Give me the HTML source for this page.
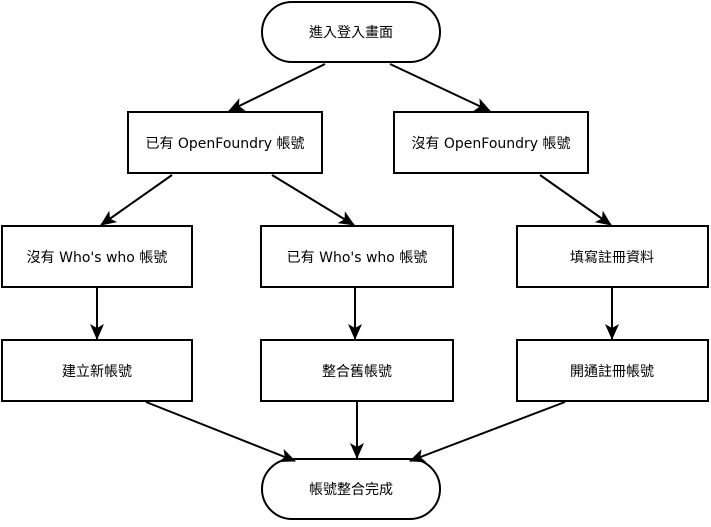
<!DOCTYPE html>
<html><head><meta charset="utf-8"><style>
html,body{margin:0;padding:0;background:#fff;}
</style></head><body>
<svg width="711" height="522" viewBox="0 0 711 522" xmlns="http://www.w3.org/2000/svg">
<defs><marker id="a" markerWidth="18" markerHeight="16" refX="15" refY="7" orient="auto" markerUnits="userSpaceOnUse"><path d="M0,0 L16,7 L0,14 L4,7 Z" fill="#000"/></marker></defs>
<g fill="#fff" stroke="#000" stroke-width="2">
<rect x="262" y="2" width="178" height="60" rx="30"/>
<rect x="128" y="112" width="194" height="61"/>
<rect x="394" y="112" width="194" height="61"/>
<rect x="2" y="226" width="190" height="61"/>
<rect x="261" y="226" width="192" height="61"/>
<rect x="517" y="226" width="191" height="61"/>
<rect x="2" y="340" width="190" height="61"/>
<rect x="261" y="340" width="192" height="61"/>
<rect x="517" y="340" width="191" height="61"/>
<rect x="262" y="459" width="178" height="60" rx="30"/>
</g>
<g stroke="#000" stroke-width="2" marker-end="url(#a)">
<line x1="325" y1="64" x2="229" y2="111"/>
<line x1="390" y1="64" x2="490" y2="111"/>
<line x1="172" y1="175" x2="101" y2="225"/>
<line x1="272" y1="175" x2="354" y2="225"/>
<line x1="540" y1="175" x2="611" y2="225"/>
<line x1="97" y1="288" x2="97" y2="339"/>
<line x1="355" y1="288" x2="355" y2="339"/>
<line x1="612" y1="288" x2="612" y2="339"/>
<line x1="146" y1="402" x2="295" y2="461"/>
<line x1="357" y1="402" x2="357" y2="458"/>
<line x1="565" y1="402" x2="410" y2="461"/>
</g>
<g text-anchor="middle" font-family="DejaVu Sans, Noto Sans CJK TC, sans-serif" font-size="14" fill="#000">
<text x="351" y="37">進入登入畫面</text>
<text x="225" y="148">已有 OpenFoundry 帳號</text>
<text x="491" y="148">沒有 OpenFoundry 帳號</text>
<text x="97" y="262">沒有 Who's who 帳號</text>
<text x="357" y="262">已有 Who's who 帳號</text>
<text x="612" y="262">填寫註冊資料</text>
<text x="97" y="376">建立新帳號</text>
<text x="357" y="376">整合舊帳號</text>
<text x="612" y="376">開通註冊帳號</text>
<text x="351" y="494">帳號整合完成</text>
</g>
</svg>
</body></html>
